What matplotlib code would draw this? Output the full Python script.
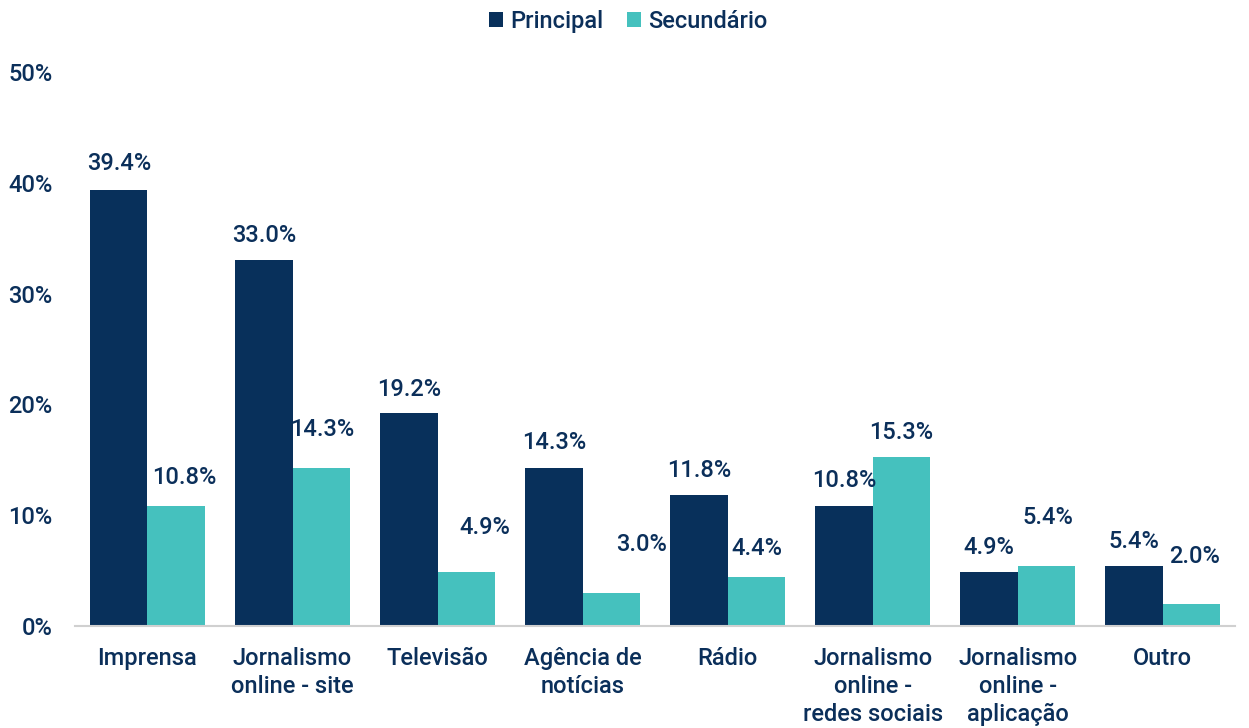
import matplotlib.pyplot as plt
import numpy as np

categorias = ["Imprensa", "Jornalismo\nonline - site", "Televisão", "Agência de\nnotícias",
              "Rádio", "Jornalismo\nonline -\nredes sociais", "Jornalismo\nonline -\naplicação",
              "Outro"]
principal = [39.4, 33.0, 19.2, 14.3, 11.8, 10.8, 4.9, 5.4]
secundario = [10.8, 14.3, 4.9, 3.0, 4.4, 15.3, 5.4, 2.0]

# deslocamento dos rótulos (px) para seguir a posição do original
desl_p = [(0, 26), (0, 25), (0, 24), (0, 25), (0, 25), (0, 26), (0, 24), (0, 25)]
desl_s = [(8, 29), (1, 38), (19, 44), (30, 48), (1, 29), (0, 24), (2, 49), (3, 47)]

AZUL = "#08305B"
TEAL = "#45C1BE"
TEXTO = "#0B2F5A"
FS = 17

plt.rcParams["font.family"] = ["Roboto", "DejaVu Sans"]
plt.rcParams["font.weight"] = "medium"

fig = plt.figure(figsize=(12.49, 7.28), dpi=100)
ax = fig.add_axes([0.06, 0.14, 0.929, 0.761])

x = np.arange(len(categorias))
w = 0.395
b1 = ax.bar(x - w / 2, principal, w, color=AZUL, label="Principal")
b2 = ax.bar(x + w / 2, secundario, w, color=TEAL, label="Secundário")

px = 72 / 100
for rect, v, (dx, dy) in zip(b1, principal, desl_p):
    ax.annotate(f"{v:.1f}%", (rect.get_x() + rect.get_width() / 2, v),
                xytext=(dx * px, dy * px), textcoords="offset points",
                ha="center", va="center", fontsize=FS, color=TEXTO)
for rect, v, (dx, dy) in zip(b2, secundario, desl_s):
    ax.annotate(f"{v:.1f}%", (rect.get_x() + rect.get_width() / 2, v),
                xytext=(dx * px, dy * px), textcoords="offset points",
                ha="center", va="center", fontsize=FS, color=TEXTO)

ax.set_xlim(-0.5, len(categorias) - 0.5)
ax.set_ylim(0, 50)
ax.set_yticks(range(0, 51, 10))
ax.set_yticklabels([f"{t}%" for t in range(0, 51, 10)])
ax.set_xticks(x)
ax.set_xticklabels(categorias, linespacing=1.27)
ax.tick_params(axis="both", length=0, labelsize=FS, labelcolor=TEXTO)
ax.tick_params(axis="y", pad=16)
ax.tick_params(axis="x", pad=15)

for s in ["top", "right", "left"]:
    ax.spines[s].set_visible(False)
ax.spines["bottom"].set_color("#D0D0D0")
ax.spines["bottom"].set_linewidth(1.5)

leg = fig.legend(loc="upper center", bbox_to_anchor=(0.503, 1.016), ncol=2, frameon=False,
                 fontsize=FS, handlelength=0.6, handleheight=0.6, handletextpad=0.3,
                 columnspacing=1.0)
for t in leg.get_texts():
    t.set_color(TEXTO)

fig.savefig("out.png", dpi=100)
